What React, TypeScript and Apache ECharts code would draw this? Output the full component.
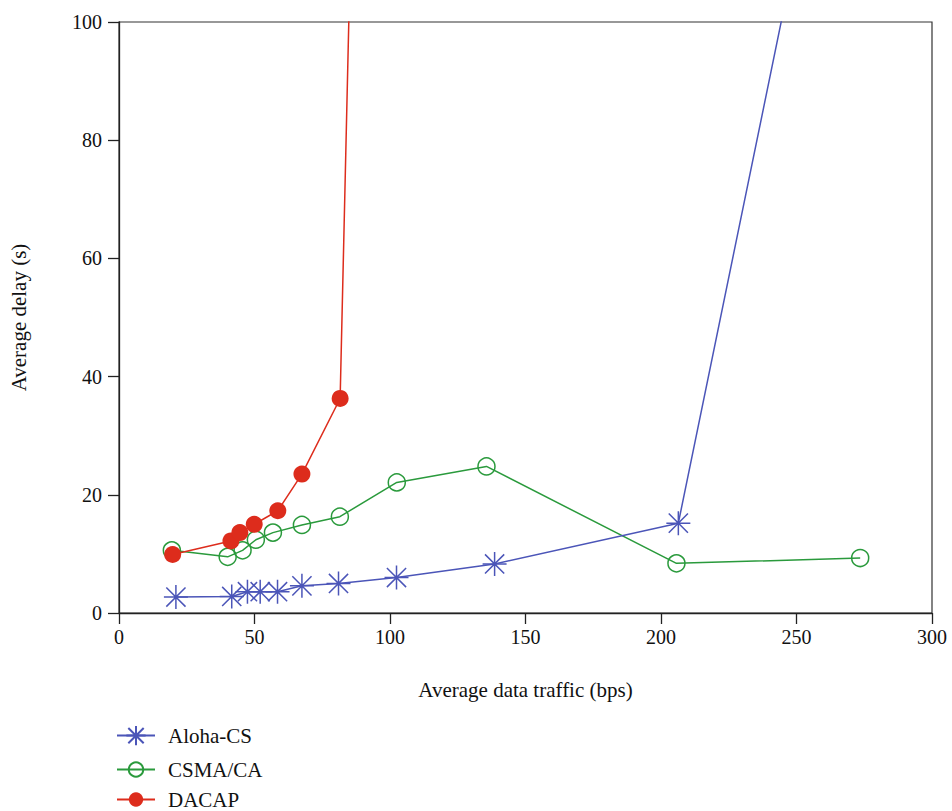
import React, { useEffect, useRef } from "react";
import * as echarts from "echarts";

const xTicks = [0, 50, 100, 150, 200, 250, 300];
const yTicks = [0, 20, 40, 60, 80, 100];

const alohaX = [21.0, 41.6, 47.4, 52.1, 58.5, 67.5, 81.0, 102.4, 138.6, 206.4, 260];
const alohaY = [2.7, 2.8, 3.6, 3.6, 3.6, 4.6, 5.0, 6.0, 8.3, 15.2, 135];

const csmaX = [19.5, 40.1, 45.6, 50.5, 56.8, 67.5, 81.5, 102.5, 135.6, 205.7, 273.5];
const csmaY = [10.6, 9.5, 10.6, 12.4, 13.6, 14.9, 16.3, 22.1, 24.8, 8.4, 9.3];

const dacapX = [19.8, 41.3, 44.6, 49.9, 58.6, 67.5, 81.6, 86];
const dacapY = [9.9, 12.2, 13.6, 15.0, 17.3, 23.5, 36.3, 124];

const seriesNames = ["Aloha-CS", "CSMA/CA", "DACAP"];
const legendTops = [725, 759, 789];
const legendIconHeights = [24, 18, 18];

const FONT = "Liberation Serif";
const BLUE = "#4b55b8";
const GREEN = "#2a9a3c";
const RED = "#dd2c1c";

const asterisk =
  "path://M0,-1L0,1M-1,0L1,0M-0.8,-0.8L0.8,0.8M-0.8,0.8L0.8,-0.8";

function zip(xs: number[], ys: number[]) {
  return xs.map((x, i) => [x, ys[i]]);
}

export default function App() {
  const ref = useRef<HTMLDivElement>(null);
  useEffect(() => {
    if (!ref.current) return;
    const chart = echarts.init(ref.current, undefined, { renderer: "svg" });
    chart.setOption({
      animation: false,
      backgroundColor: "#fff",
      textStyle: { fontFamily: FONT },
      grid: {
        left: 118,
        right: 20,
        top: 22,
        bottom: 198,
        show: true,
        borderColor: "#333",
        borderWidth: 1.2,
        backgroundColor: "transparent",
      },
      legend: seriesNames.map((n, i) => ({
        orient: "vertical",
        left: 116,
        top: legendTops[i],
        padding: 0,
        itemWidth: 38,
        itemHeight: legendIconHeights[i],
        data: [n],
        textStyle: {
          fontFamily: FONT,
          fontSize: 21,
          color: "#111",
          padding: [0, 0, 0, 8],
        },
      })),
      xAxis: {
        type: "value",
        min: 0,
        max: 300,
        interval: 50,
        name: "Average data traffic (bps)",
        nameLocation: "middle",
        nameGap: 66,
        nameTextStyle: { fontFamily: FONT, fontSize: 21, color: "#111" },
        axisLine: { show: true, onZero: false, lineStyle: { color: "#222", width: 1.3 } },
        axisTick: { show: true, length: 11, inside: false, lineStyle: { color: "#222", width: 1.3 } },
        axisLabel: {
          fontFamily: FONT,
          fontSize: 20,
          color: "#111",
          margin: 14,
          formatter: (v: number) => (xTicks.includes(v) ? String(v) : ""),
        },
        splitLine: { show: false },
      },
      yAxis: {
        type: "value",
        min: 0,
        max: 100,
        interval: 20,
        name: "Average delay (s)",
        nameLocation: "middle",
        nameGap: 90,
        nameTextStyle: { fontFamily: FONT, fontSize: 21, color: "#111" },
        axisLine: { show: true, onZero: false, lineStyle: { color: "#222", width: 1.3 } },
        axisTick: { show: true, length: 11, inside: false, lineStyle: { color: "#222", width: 1.3 } },
        axisLabel: {
          fontFamily: FONT,
          fontSize: 20,
          color: "#111",
          margin: 17,
          formatter: (v: number) => (yTicks.includes(v) ? String(v) : ""),
        },
        splitLine: { show: false },
      },
      series: [
        {
          name: seriesNames[0],
          type: "line",
          data: zip(alohaX, alohaY),
          clip: true,
          symbol: asterisk,
          symbolSize: 24,
          showAllSymbol: true,
          color: BLUE,
          lineStyle: { color: BLUE, width: 1.5 },
          itemStyle: { color: "transparent", borderColor: BLUE, borderWidth: 1.5 },
          z: 3,
        },
        {
          name: seriesNames[1],
          type: "line",
          data: zip(csmaX, csmaY),
          clip: true,
          symbol: "circle",
          symbolSize: 17,
          showAllSymbol: true,
          color: GREEN,
          lineStyle: { color: GREEN, width: 1.5 },
          itemStyle: { color: "transparent", borderColor: GREEN, borderWidth: 1.5 },
          z: 2,
        },
        {
          name: seriesNames[2],
          type: "line",
          data: zip(dacapX, dacapY),
          clip: true,
          symbol: "circle",
          symbolSize: 17,
          showAllSymbol: true,
          color: RED,
          lineStyle: { color: RED, width: 1.5 },
          itemStyle: { color: RED, borderWidth: 0 },
          z: 4,
        },
      ],
    });
    return () => chart.dispose();
  }, []);
  return (
    <div
      ref={ref}
      style={{ position: "absolute", left: 0, top: 0, width: 952, height: 811, overflow: "hidden" }}
    />
  );
}
